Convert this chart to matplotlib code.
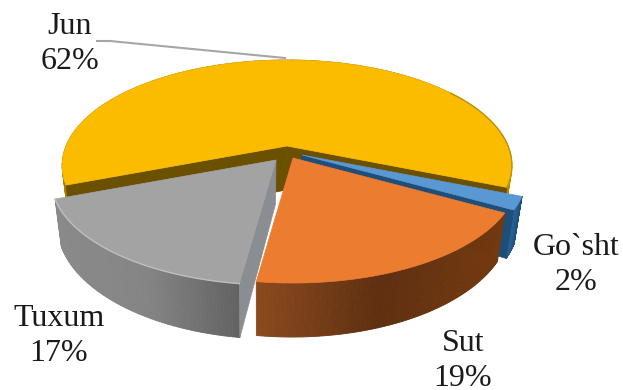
import numpy as np
import matplotlib
matplotlib.use("Agg")
import matplotlib.pyplot as plt
from matplotlib.collections import PolyCollection
from matplotlib.colors import to_rgb
from matplotlib.patches import Polygon

labels = ["Jun", "Go`sht", "Sut", "Tuxum"]
shares = [62, 2, 19, 17]

top_colors = ["#FBBC00", "#5A98D3", "#EC7C30", "#A3A3A3"]
cut_colors = ["#6B5000", "#1F4E79", "#6B3512", "#8A8E92"]
# wall shading, left end / middle / right end of each rim
wall_colors = [["#A88000", "#7A5C00", "#B08600"],
               ["#2A6496", "#24598A", "#1F4E79"],
               ["#8C4A1E", "#5E2F10", "#74390F"],
               ["#8A8A8A", "#848484", "#626262"]]
# which cut faces can be seen, 0 = start of the slice, -1 = end of the slice
cut_ends = [(0, -1), (-1,), (), (0,)]
apexes = [(287, 146), (302, 155), (293, 158), (276, 160)]
label_pos = [(70, 44), (576, 265), (463, 361), (59, 336)]

START_ANGLE = 201.0
RX, RY, TILT = 221.0, 101.9, 0.185
DEPTH = 44.0
SHRINK = 0.03
SHRINK_X0 = 260.0


def project(angle, apex, drop=False):
    t = np.radians(angle)
    d = 1 + TILT * np.sin(t)
    x = apex[0] + RX * np.cos(t) / d
    y = apex[1] - RY * np.sin(t) / d
    if drop:
        x = x - SHRINK * (x - SHRINK_X0)
        y = y + DEPTH / d
    return x, y


def apex_bottom(apex):
    return apex[0] - SHRINK * (apex[0] - SHRINK_X0), apex[1] + DEPTH


def draw_slice(ax, a0, a1, apex, top, cut, wall, ends):
    # a0 > a1, slices run clockwise
    angles = np.linspace(a0, a1, 120)
    x_top, y_top = project(angles, apex)
    x_bot, y_bot = project(angles, apex, drop=True)

    # rim wall as thin quads, shaded by screen position
    quads = []
    colors = []
    c = [np.array(to_rgb(w)) for w in wall]
    span = max(x_bot.max() - x_bot.min(), 1)
    for i in range(len(angles) - 1):
        quads.append([(x_top[i], y_top[i]), (x_top[i + 1], y_top[i + 1]),
                       (x_bot[i + 1], y_bot[i + 1]), (x_bot[i], y_bot[i])])
        f = (x_bot[i] - x_bot.min()) / span
        if f < 0.5:
            colors.append(c[0] + (c[1] - c[0]) * f * 2)
        else:
            colors.append(c[1] + (c[2] - c[1]) * (f - 0.5) * 2)
    ax.add_collection(PolyCollection(quads, facecolors=colors, edgecolors=colors,
                                     linewidths=0.6))

    # cut faces
    bottom = apex_bottom(apex)
    for end in ends:
        ax.add_patch(Polygon([apex, (x_top[end], y_top[end]),
                              (x_bot[end], y_bot[end]), bottom],
                             facecolor=cut, edgecolor=cut, linewidth=0.5))

    outline = [apex] + list(zip(x_top, y_top))
    ax.add_patch(Polygon(outline, facecolor=top, edgecolor=top, linewidth=0.5))


def main():
    fig = plt.figure(figsize=(6.23, 3.90), dpi=100)
    ax = fig.add_axes([0, 0, 1, 1])
    ax.set_xlim(0, 623)
    ax.set_ylim(390, 0)
    ax.axis("off")

    sweeps = np.array(shares) / sum(shares) * 360.0
    starts = START_ANGLE - np.concatenate(([0], np.cumsum(sweeps)[:-1]))

    # back to front
    for i in [0, 1, 3, 2]:
        draw_slice(ax, starts[i], starts[i] - sweeps[i], apexes[i],
                   top_colors[i], cut_colors[i], wall_colors[i], cut_ends[i])

    # soft light edge on the gray slice, darker bevel on the yellow one
    angles = np.linspace(starts[3], starts[3] - sweeps[3], 60)
    ax.plot(*project(angles, apexes[3]), color="#BEBEBE", lw=1.0)
    angles = np.linspace(35, starts[1], 40)
    ax.plot(*project(angles, apexes[0]), color="#BE9200", lw=1.0)

    # leader line of the big slice
    ax.plot([97, 110, 285], [41, 41, 58], color="#A6A6A6", lw=1.5)

    for i in range(len(labels)):
        ax.text(label_pos[i][0], label_pos[i][1], f"{labels[i]}\n{shares[i]}%",
                family="Liberation Serif", fontsize=23, color="#1A1A1A",
                ha="center", va="center", linespacing=1.28)

    fig.savefig("out.png", dpi=100)


if __name__ == "__main__":
    main()
